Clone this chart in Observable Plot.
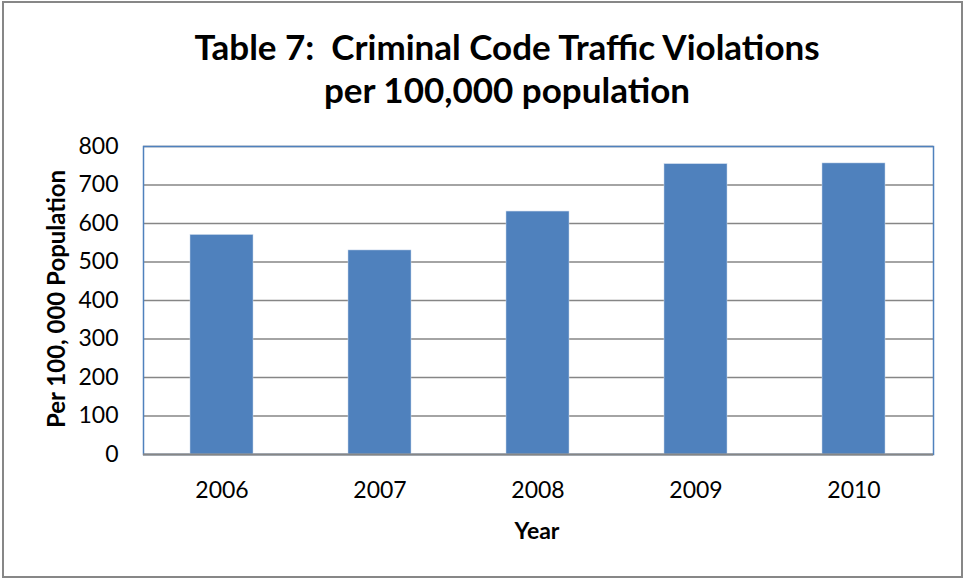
<!DOCTYPE html>
<html>
<head>
<meta charset="utf-8">
<script src="https://cdn.jsdelivr.net/npm/d3@7"></script>
<script src="https://cdn.jsdelivr.net/npm/@observablehq/plot@0.6"></script>
<style>
  html, body { margin: 0; padding: 0; background: #fff; }
  body { width: 963px; height: 579px; position: relative; overflow: hidden; font-family: Lato, "Open Sans", sans-serif; }
  #border { position: absolute; left: 2px; top: 1px; width: 961px; height: 577px; box-sizing: border-box; border: 2px solid #878787; }
  #title { position: absolute; left: 507px; top: 25px; transform: translateX(-50%); white-space: nowrap; text-align: center; font-weight: bold; font-size: 35px; line-height: 43px; color: #000; }
  #ylabel { position: absolute; left: 55px; top: 299px; transform: translate(-50%, -50%) rotate(-90deg); white-space: nowrap; font-weight: bold; font-size: 24px; color: #000; }
  #xlabel { position: absolute; left: 537px; top: 530px; transform: translate(-50%, -50%); white-space: nowrap; font-weight: bold; font-size: 23px; color: #000; }
  #chart { position: absolute; left: 0; top: 0; }
</style>
</head>
<body>
<div id="border"></div>
<div id="chart"></div>
<div id="title">Table 7:&nbsp; Criminal Code Traffic Violations<br>per 100,000 population</div>
<div id="ylabel">Per 100, 000 Population</div>
<div id="xlabel">Year</div>
<script>
const years = ["2006", "2007", "2008", "2009", "2010"];
const values = [570, 530, 631, 754, 756];
const yTicks = [0, 100, 200, 300, 400, 500, 600, 700, 800];

const data = years.map((year, i) => ({year, value: values[i]}));

const plot = Plot.plot({
  width: 963,
  height: 579,
  marginLeft: 143,
  marginRight: 30,
  marginTop: 146,
  marginBottom: 125,
  style: { fontFamily: "Lato, 'Open Sans', sans-serif", background: "transparent", color: "#000" },
  x: { type: "band", domain: years, paddingInner: 0.6, paddingOuter: 0.3, align: 0.5, label: null },
  y: { domain: [0, 800], ticks: yTicks, label: null },
  marks: [
    Plot.gridY(yTicks, { stroke: "#868686", strokeOpacity: 1, strokeWidth: 1.5 }),
    Plot.frame({ stroke: "#4F81BD", strokeWidth: 1.5 }),
    Plot.barY(data, { x: "year", y: "value", fill: "#4F81BD", stroke: "#c5d5ea", strokeWidth: 0.5 }),
    Plot.ruleX([0], { frameAnchor: "left", stroke: "#868686", strokeWidth: 2 }),
    Plot.ruleY([0], { stroke: "#868686", strokeWidth: 2 }),
    Plot.axisY(yTicks, { tickSize: 0, tickPadding: 25, fontSize: 23, label: null, tickFormat: d => String(d) }),
    Plot.axisX({ tickSize: 0, tickPadding: 27, fontSize: 23, label: null })
  ]
});
document.getElementById("chart").appendChild(plot);
</script>
</body>
</html>
